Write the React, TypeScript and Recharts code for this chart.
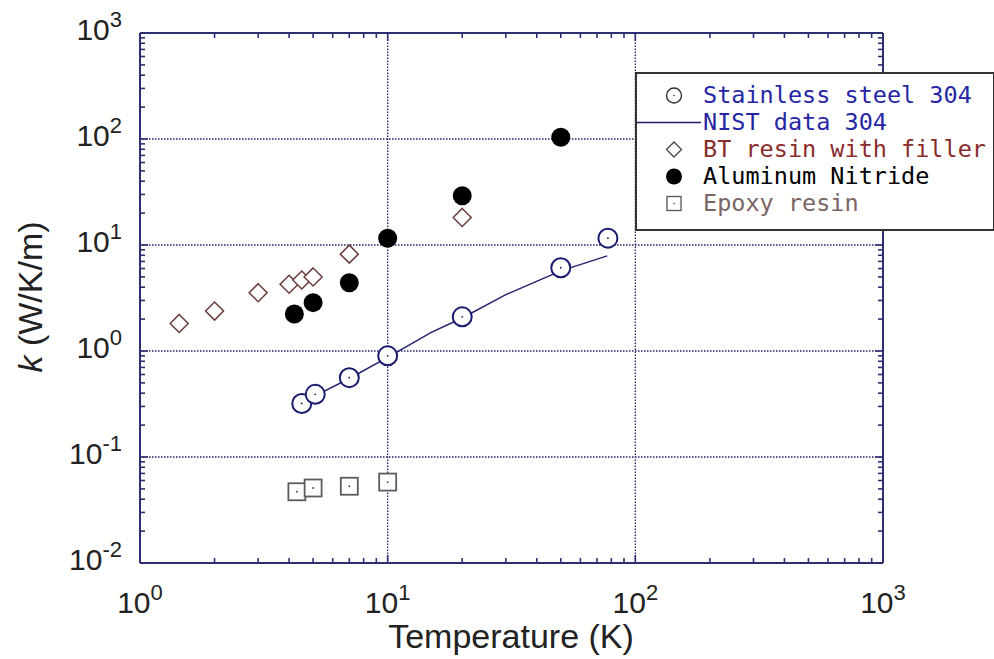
import React from 'react';
import {
  ScatterChart,
  Scatter,
  XAxis,
  YAxis,
  ReferenceLine,
} from 'recharts';

// Thermal conductivity k (W/K/m) against temperature (K)
const SS304_T = [4.5, 5.1, 7, 10, 20, 50, 77.5];
const SS304_K = [0.32, 0.39, 0.56, 0.9, 2.1, 6.1, 11.6];

const NIST_T = [4.5, 5, 7, 10, 15, 20, 30, 50, 77];
const NIST_K = [0.31, 0.37, 0.55, 0.87, 1.5, 2.05, 3.4, 5.7, 7.9];

const BT_T = [1.44, 2, 3, 4, 4.5, 5, 7, 20];
const BT_K = [1.82, 2.38, 3.55, 4.26, 4.68, 5.0, 8.2, 18.2];

const ALN_T = [4.2, 5, 7, 10, 20, 50];
const ALN_K = [2.23, 2.86, 4.41, 11.6, 29.2, 104];

const EPOXY_T = [4.3, 5, 7, 10];
const EPOXY_K = [0.047, 0.051, 0.053, 0.058];

const X_DECADES = [1, 10, 100, 1000];
const Y_DECADES = [0.01, 0.1, 1, 10, 100, 1000];
const X_GRID = [10, 100];
const Y_GRID = [0.1, 1, 10, 100];

const zip = (ts: number[], ks: number[]) => ts.map((t, i) => ({ t, k: ks[i] }));

// major + minor (2..9) log ticks inside the decade range
const logTicks = (decades: number[]) => {
  const top = decades[decades.length - 1];
  return decades.flatMap((d) =>
    [1, 2, 3, 4, 5, 6, 7, 8, 9].map((m) => d * m).filter((v) => v <= top * 1.0001)
  );
};
const isMajor = (v: number) => Math.abs(Math.log10(v) - Math.round(Math.log10(v))) < 1e-6;
const expOf = (v: number) => Math.round(Math.log10(v));

const AXIS = '#2e2e72';
const GRID = '#22226a';
const FONT = '"Liberation Sans", Arial, Helvetica, sans-serif';
const MONO = '"DejaVu Sans Mono", "Liberation Mono", monospace';

const MAJ = 8;
const MIN = 5;

const BottomTick = (props: any) => {
  const { x, y, payload } = props;
  const major = isMajor(payload.value);
  return (
    <g>
      <line x1={x} y1={y} x2={x} y2={y - (major ? MAJ : MIN)} stroke={AXIS} strokeWidth={1.6} />
      {major && (
        <text x={x} y={y + 50} textAnchor="middle" fontFamily={FONT} fontSize={30} fill="#222">
          10<tspan dy={-13} fontSize={22}>{expOf(payload.value)}</tspan>
        </text>
      )}
    </g>
  );
};

const TopTick = (props: any) => {
  const { x, y, payload } = props;
  const major = isMajor(payload.value);
  return <line x1={x} y1={y} x2={x} y2={y + (major ? MAJ : MIN)} stroke={AXIS} strokeWidth={1.6} />;
};

const LeftTick = (props: any) => {
  const { x, y, payload } = props;
  const major = isMajor(payload.value);
  return (
    <g>
      <line x1={x} y1={y} x2={x + (major ? MAJ : MIN)} y2={y} stroke={AXIS} strokeWidth={1.6} />
      {major && (
        <text x={x - 18} y={y + 7} textAnchor="end" fontFamily={FONT} fontSize={30} fill="#222">
          10<tspan dy={-13} fontSize={22}>{expOf(payload.value)}</tspan>
        </text>
      )}
    </g>
  );
};

const RightTick = (props: any) => {
  const { x, y, payload } = props;
  const major = isMajor(payload.value);
  return <line x1={x} y1={y} x2={x - (major ? MAJ : MIN)} y2={y} stroke={AXIS} strokeWidth={1.6} />;
};

// markers
const OpenCircle = ({ cx, cy }: any) => (
  <g>
    <circle cx={cx} cy={cy} r={9.5} fill="#fff" stroke="#1c1c6e" strokeWidth={2} />
    <circle cx={cx} cy={cy} r={0.9} fill="#1c1c6e" />
  </g>
);
const Diamond = ({ cx, cy }: any) => (
  <path
    d={`M${cx},${cy - 9} L${cx + 9},${cy} L${cx},${cy + 9} L${cx - 9},${cy} Z`}
    fill="#fff"
    stroke="#6b3c3c"
    strokeWidth={1.5}
  />
);
const FilledCircle = ({ cx, cy }: any) => <circle cx={cx} cy={cy} r={9.5} fill="#000" />;
const Square = ({ cx, cy }: any) => (
  <g>
    <rect x={cx - 8.5} y={cy - 8.5} width={17} height={17} fill="#fff" stroke="#5c5c5c" strokeWidth={1.8} />
    <circle cx={cx} cy={cy} r={0.9} fill="#444" />
  </g>
);
const NoMark = () => <g />;

const legendRows = [
  { label: 'Stainless steel 304', color: '#2626a4', mark: 'circle' },
  { label: 'NIST data 304', color: '#2626a4', mark: 'line' },
  { label: 'BT resin with filler', color: '#8a2c2c', mark: 'diamond' },
  { label: 'Aluminum Nitride', color: '#000', mark: 'dot' },
  { label: 'Epoxy resin', color: '#7a6464', mark: 'square' },
];

const LegendMark = ({ mark }: { mark: string }) => (
  <svg width={66} height={27} style={{ display: 'block', flexShrink: 0 }}>
    {mark === 'circle' && (
      <g>
        <circle cx={37} cy={13.5} r={7.5} fill="none" stroke="#333" strokeWidth={1.4} />
        <circle cx={37} cy={13.5} r={0.8} fill="#333" />
      </g>
    )}
    {mark === 'line' && <line x1={0} y1={13.5} x2={64} y2={13.5} stroke="#22226a" strokeWidth={1.5} />}
    {mark === 'diamond' && (
      <path d="M37,6 L44.5,13.5 L37,21 L29.5,13.5 Z" fill="none" stroke="#444" strokeWidth={1.3} />
    )}
    {mark === 'dot' && <circle cx={37} cy={13.5} r={8} fill="#000" />}
    {mark === 'square' && (
      <g>
        <rect x={30} y={6.5} width={14} height={14} fill="none" stroke="#555" strokeWidth={1.3} />
        <circle cx={37} cy={13.5} r={0.8} fill="#444" />
      </g>
    )}
  </svg>
);

const ThermalConductivityChart: React.FC = () => {
  const xTicks = logTicks(X_DECADES);
  const yTicks = logTicks(Y_DECADES);

  return (
    <div style={{ position: 'absolute', left: 0, top: 0, width: 994, height: 659, background: '#fff' }}>
      <ScatterChart width={994} height={659} margin={{ top: 32, right: 110, bottom: 36, left: 60 }}>
        <XAxis
          xAxisId="b"
          dataKey="t"
          type="number"
          scale="log"
          domain={[1, 1000]}
          allowDataOverflow
          ticks={xTicks}
          interval={0}
          tickSize={0}
          tickMargin={0}
          tick={<BottomTick />}
          height={60}
          axisLine={{ stroke: AXIS, strokeWidth: 2 }}
        />
        <XAxis
          xAxisId="t"
          orientation="top"
          dataKey="t"
          type="number"
          scale="log"
          domain={[1, 1000]}
          allowDataOverflow
          ticks={xTicks}
          interval={0}
          tickSize={0}
          tickMargin={0}
          tick={<TopTick />}
          height={1}
          axisLine={{ stroke: AXIS, strokeWidth: 2 }}
        />
        <YAxis
          yAxisId="l"
          dataKey="k"
          type="number"
          scale="log"
          domain={[0.01, 1000]}
          allowDataOverflow
          ticks={yTicks}
          interval={0}
          tickSize={0}
          tickMargin={0}
          tick={<LeftTick />}
          width={80}
          axisLine={{ stroke: AXIS, strokeWidth: 2 }}
        />
        <YAxis
          yAxisId="r"
          orientation="right"
          dataKey="k"
          type="number"
          scale="log"
          domain={[0.01, 1000]}
          allowDataOverflow
          ticks={yTicks}
          interval={0}
          tickSize={0}
          tickMargin={0}
          tick={<RightTick />}
          width={1}
          axisLine={{ stroke: AXIS, strokeWidth: 2 }}
        />

        {X_GRID.map((v) => (
          <ReferenceLine key={`gx-${v}`} x={v} xAxisId="b" yAxisId="l" stroke={GRID} strokeWidth={1.3} strokeDasharray="1.5 1.5" />
        ))}
        {Y_GRID.map((v) => (
          <ReferenceLine key={`gy-${v}`} y={v} xAxisId="b" yAxisId="l" stroke={GRID} strokeWidth={1.3} strokeDasharray="1.5 1.5" />
        ))}

        <Scatter
          name="NIST data 304"
          xAxisId="b"
          yAxisId="l"
          data={zip(NIST_T, NIST_K)}
          line={{ stroke: '#24246e', strokeWidth: 1.5 }}
          lineType="joint"
          shape={<NoMark />}
          isAnimationActive={false}
        />
        <Scatter name="Stainless steel 304" xAxisId="b" yAxisId="l" data={zip(SS304_T, SS304_K)} shape={<OpenCircle />} isAnimationActive={false} />
        <Scatter name="BT resin with filler" xAxisId="b" yAxisId="l" data={zip(BT_T, BT_K)} shape={<Diamond />} isAnimationActive={false} />
        <Scatter name="Aluminum Nitride" xAxisId="b" yAxisId="l" data={zip(ALN_T, ALN_K)} shape={<FilledCircle />} isAnimationActive={false} />
        <Scatter name="Epoxy resin" xAxisId="b" yAxisId="l" data={zip(EPOXY_T, EPOXY_K)} shape={<Square />} isAnimationActive={false} />

        <text x={511} y={648} textAnchor="middle" fontFamily={FONT} fontSize={34} fill="#222">
          Temperature (K)
        </text>
        <text transform="translate(42,297) rotate(-90)" textAnchor="middle" fontFamily={FONT} fontSize={34} fill="#222">
          <tspan fontStyle="italic">k</tspan> (W/K/m)
        </text>
      </ScatterChart>

      {/* legend box sits over the top-right corner of the frame */}
      <div
        style={{
          position: 'absolute',
          left: 635,
          top: 72,
          width: 356,
          height: 147,
          background: '#fff',
          border: '2px solid #333',
          paddingTop: 8,
          boxSizing: 'content-box',
        }}
      >
        {legendRows.map((row) => (
          <div key={row.label} style={{ display: 'flex', alignItems: 'center', height: 27 }}>
            <LegendMark mark={row.mark} />
            <span style={{ fontFamily: MONO, fontSize: 23.5, color: row.color, whiteSpace: 'nowrap', lineHeight: '27px' }}>
              {row.label}
            </span>
          </div>
        ))}
      </div>
    </div>
  );
};

export default ThermalConductivityChart;
